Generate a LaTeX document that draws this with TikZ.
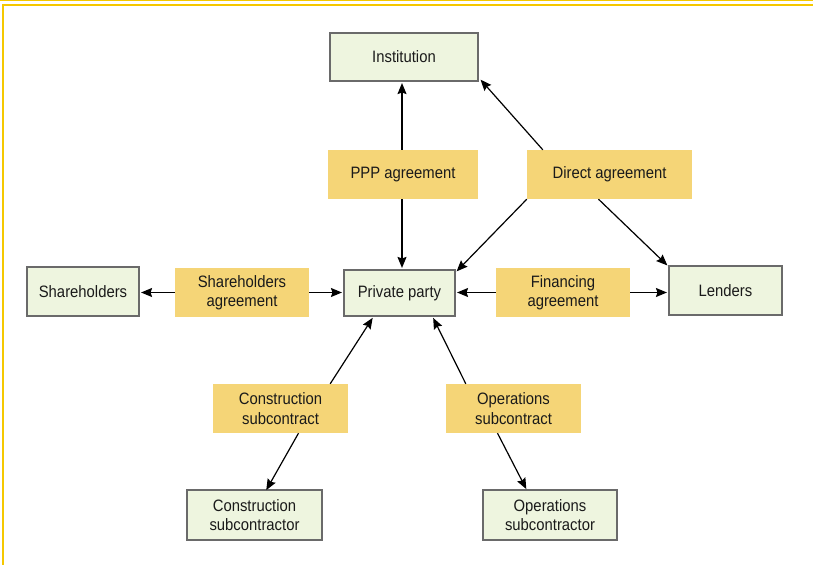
\documentclass[tikz,border=0pt]{standalone}
\usepackage{fontspec}
\setmainfont{Liberation Sans}[FakeStretch=0.9]
\usetikzlibrary{arrows.meta}
\definecolor{frameY}{HTML}{F5C800}
\definecolor{boxfill}{HTML}{EEF5DF}
\definecolor{boxline}{HTML}{6A6A6A}
\definecolor{labfill}{HTML}{F5D577}
\definecolor{txt}{HTML}{1A1A1A}
\tikzset{
  entity/.style={draw=boxline, line width=1.1pt, fill=boxfill, text=txt, align=center,
    font=\fontsize{16.5}{19.5}\selectfont, inner sep=0pt},
  agree/.style={fill=labfill, text=txt, align=center,
    font=\fontsize{16.5}{19.5}\selectfont, inner sep=0pt, minimum height=49pt},
  conn/.style={line width=1.2pt, -{Stealth[length=11pt,width=9pt,inset=1.5pt]}, shorten >=1.5pt}
}
\begin{document}
\begin{tikzpicture}[x=1pt,y=-1pt]
\useasboundingbox (0,0) rectangle (813,567);
% frame
\draw[frameY, line width=1.3pt] (0,0.7) -- (813,0.7);
\draw[frameY, line width=1.5pt] (2.5,4.8) -- (813,4.8);
\draw[frameY, line width=2pt] (3,4.2) -- (3,565);
% entities
\node[entity, minimum width=148pt, minimum height=48pt] (inst) at (404,57) {Institution};
\node[entity, minimum width=112pt, minimum height=49pt] (share) at (83,291.5) {Shareholders};
\node[entity, minimum width=111pt, minimum height=46pt] (pp) at (399.5,293) {Private party};
\node[entity, minimum width=113pt, minimum height=49pt] (lend) at (725.5,290.5) {Lenders};
\node[entity, minimum width=135pt, minimum height=50pt] (cons) at (254.5,515) {Construction\\subcontractor};
\node[entity, minimum width=134pt, minimum height=50pt] (ops) at (550,515) {Operations\\subcontractor};
% agreements
\node[agree, minimum width=150pt] (ppp) at (403,174.5) {PPP agreement};
\node[agree, minimum width=165pt] (direct) at (609.5,174.5) {Direct agreement};
\node[agree, minimum width=134pt] (sha) at (242,292.5) {Shareholders\\agreement};
\node[agree, minimum width=134pt] (fin) at (563,292.5) {Financing\\agreement};
\node[agree, minimum width=135pt] (csub) at (280.5,408.5) {Construction\\subcontract};
\node[agree, minimum width=135pt] (osub) at (513.5,408.5) {Operations\\subcontract};
% connectors
\draw[conn] ([xshift=-1pt]ppp.north) -- ([xshift=-2pt]inst.south);
\draw[conn] ([xshift=-1pt]ppp.south) -- ([xshift=2.5pt]pp.north);
\draw[conn] ([xshift=16pt]direct.north west) -- ([xshift=1pt,yshift=3pt]inst.south east);
\draw[conn] ([xshift=0pt]direct.south west) -- ([xshift=0pt,yshift=-3pt]pp.north east);
\draw[conn] ([xshift=-11pt]direct.south) -- ([xshift=0pt,yshift=-1pt]lend.north west);
\draw[conn] (sha.west) -- (share.east |- sha.west);
\draw[conn] (sha.east) -- (pp.west |- sha.east);
\draw[conn] (fin.west) -- (pp.east |- fin.west);
\draw[conn] (fin.east) -- (lend.west |- fin.east);
\draw[conn] ([xshift=-18pt]csub.north east) -- ([xshift=-26pt]pp.south);
\draw[conn] ([xshift=18pt]csub.south) -- ([xshift=11pt,yshift=-2pt]cons.north);
\draw[conn] ([xshift=20pt]osub.north west) -- ([xshift=33pt]pp.south);
\draw[conn] ([xshift=-16pt]osub.south) -- ([xshift=-23pt,yshift=-1pt]ops.north);
\end{tikzpicture}
\end{document}
